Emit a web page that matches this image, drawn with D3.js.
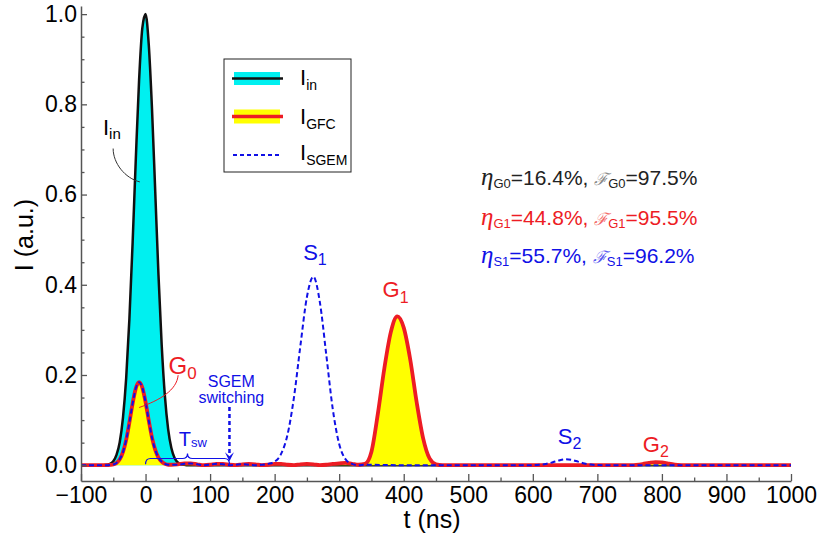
<!DOCTYPE html>
<html>
<head>
<meta charset="utf-8">
<script src="https://cdn.jsdelivr.net/npm/d3@7"></script>
<style>
  body { margin: 0; background: #fff; }
  text { font-family: "Liberation Sans", Arial, sans-serif; }
</style>
</head>
<body>
<svg id="chart" width="822" height="539"></svg>
<script>
// input pulse I_in
var tIn = [-100, -65, -60, -55, -50, -45, -40, -35, -30, -25, -20, -15, -10, -5, 0, 5, 10, 15, 20, 25, 30, 35, 40, 45, 50, 55, 60, 65, 1000];
var iIn = [0, 0, 0.001, 0.003, 0.009, 0.023, 0.051, 0.105, 0.193, 0.325, 0.494, 0.682, 0.854, 0.969, 1.0, 0.932, 0.790, 0.607, 0.423, 0.267, 0.153, 0.080, 0.038, 0.016, 0.006, 0.002, 0.001, 0, 0];

// GFC output (G0, G1, G2)
var tGfc = [-100, -70, -60, -55, -50, -45, -40, -35, -30, -25, -20, -15, -10, -5, 0, 5, 10, 15, 20, 25, 30, 35, 40,
  50, 60, 70, 80, 90, 100, 110, 120, 130, 140, 150, 160, 170, 180, 190, 200, 210, 220, 230, 240, 250, 260, 270, 280, 290,
  300, 310, 320, 330, 340, 350, 360, 370, 380, 390, 400, 410, 420, 430, 440, 450, 460, 500, 600, 700, 740,
  750, 760, 770, 780, 790, 800, 810, 820, 830, 840, 1000];
var iGfc = [0, 0, 0, 0.0005, 0.0016, 0.005, 0.013, 0.029, 0.056, 0.095, 0.137, 0.171, 0.184, 0.172, 0.140, 0.099, 0.061, 0.034, 0.017, 0.008, 0.003, 0.001, 0.001,
  0.002, 0.004, 0.004, 0.002, 0, 0.001, 0.003, 0.003, 0.001, 0, 0.002, 0.003, 0.002, 0, 0.001, 0.003, 0.003, 0.001, 0, 0.002, 0.003, 0.002, 0, 0.001, 0.003,
  0.004, 0.005, 0.003, 0.001, 0.003, 0.03, 0.115, 0.215, 0.295, 0.330, 0.305, 0.235, 0.14, 0.06, 0.015, 0.002, 0, 0, 0, 0, 0,
  0.0002, 0.0008, 0.0025, 0.0052, 0.007, 0.0062, 0.0035, 0.0013, 0.0003, 0, 0];

// SGEM output (G0, S1, S2)
var tSgem = [-100, -70, -60, -55, -50, -45, -40, -35, -30, -25, -20, -15, -10, -5, 0, 5, 10, 15, 20, 25, 30, 35, 40,
  50, 60, 70, 80, 90, 100, 110, 120, 130, 140, 150, 160, 170, 180, 190, 200, 210, 220, 230, 240, 250, 260, 270, 280, 290,
  300, 310, 320, 330, 340, 400, 500, 590, 600, 610, 620, 630, 640, 650, 660, 670, 680, 690, 700, 710, 1000];
var iSgem = [0, 0, 0, 0.0005, 0.0016, 0.005, 0.013, 0.029, 0.056, 0.095, 0.137, 0.171, 0.184, 0.172, 0.140, 0.099, 0.061, 0.034, 0.017, 0.008, 0.003, 0.001, 0.001,
  0.001, 0.003, 0.004, 0.002, 0, 0.001, 0.003, 0.002, 0, 0.001, 0.002, 0.001, 0, 0.001, 0.003, 0.008, 0.025, 0.068, 0.151, 0.266, 0.373, 0.418, 0.362, 0.245, 0.125,
  0.047, 0.013, 0.003, 0, 0.001, 0, 0, 0, 0.0002, 0.001, 0.0027, 0.0062, 0.0104, 0.013, 0.0118, 0.0079, 0.0039, 0.0014, 0.0004, 0, 0];

var xTickValues = [-100, 0, 100, 200, 300, 400, 500, 600, 700, 800, 900, 1000];
var xMinorValues = [-50, 50, 150, 250, 350, 450, 550, 650, 750, 850, 950];
var yTickValues = [0, 0.2, 0.4, 0.6, 0.8, 1.0];
var yMinorValues = [0.05, 0.1, 0.15, 0.25, 0.3, 0.35, 0.45, 0.5, 0.55, 0.65, 0.7, 0.75, 0.85, 0.9, 0.95];

var effSubs = ["G0", "G1", "S1"];
var etaVals = ["16.4%", "44.8%", "55.7%"];
var fidVals = ["97.5%", "95.5%", "96.2%"];

var tSwitch = 130;

var RED = "#ed1c24", BLUE = "#1010e6", CYAN = "#00f0f0", YELLOW = "#ffff00";

var svg = d3.select("#chart");
var x = d3.scaleLinear().domain([-100, 1000]).range([81, 791]);
var y = d3.scaleLinear().domain([-0.035, 1.018]).range([481, 6]);

function zip(ts, vs) { return ts.map(function(t, i) { return [t, vs[i]]; }); }
var inPts = zip(tIn, iIn), gfcPts = zip(tGfc, iGfc), sgemPts = zip(tSgem, iSgem);

var area = d3.area().x(d => x(d[0])).y0(y(0)).y1(d => y(d[1])).curve(d3.curveMonotoneX);
var line = d3.line().x(d => x(d[0])).y(d => y(d[1])).curve(d3.curveMonotoneX);

// fills and lines
svg.append("path").attr("d", area(inPts)).attr("fill", CYAN);
svg.append("path").attr("d", line(inPts)).attr("fill", "none").attr("stroke", "#111").attr("stroke-width", 2.5);
svg.append("path").attr("d", area(gfcPts)).attr("fill", YELLOW);
svg.append("path").attr("d", line(gfcPts)).attr("fill", "none").attr("stroke", RED).attr("stroke-width", 3.8);
svg.append("path").attr("d", line(sgemPts)).attr("fill", "none").attr("stroke", BLUE)
  .attr("stroke-width", 2).attr("stroke-dasharray", "5,3");

// axes
function styleAxis(g) {
  g.select(".domain").attr("stroke", "#555").attr("stroke-width", 1.5);
  g.selectAll(".tick line").attr("stroke", "#555").attr("stroke-width", 1.3);
  g.selectAll("text").attr("font-size", 23).attr("fill", "#000").attr("font-family", "Liberation Sans, Arial, sans-serif");
}
var gx = svg.append("g").attr("transform", "translate(0," + y.range()[0] + ")")
  .call(d3.axisBottom(x).tickValues(xTickValues).tickSize(-7).tickSizeOuter(0).tickPadding(6)
    .tickFormat(d => d < 0 ? "\u2212" + Math.abs(d) : d));
styleAxis(gx);
var gxm = svg.append("g").attr("transform", "translate(0," + y.range()[0] + ")")
  .call(d3.axisBottom(x).tickValues(xMinorValues).tickSize(-3.5).tickSizeOuter(0).tickFormat(""));
styleAxis(gxm); gxm.select(".domain").remove();

var gy = svg.append("g").attr("transform", "translate(" + x.range()[0] + ",0)")
  .call(d3.axisLeft(y).tickValues(yTickValues).tickSize(-6).tickSizeOuter(0).tickPadding(4).tickFormat(d3.format(".1f")));
styleAxis(gy);
var gym = svg.append("g").attr("transform", "translate(" + x.range()[0] + ",0)")
  .call(d3.axisLeft(y).tickValues(yMinorValues).tickSize(-3.5).tickSizeOuter(0).tickFormat(""));
styleAxis(gym); gym.select(".domain").remove();

svg.append("text").attr("x", 432).attr("y", 528).attr("text-anchor", "middle").attr("font-size", 25).text("t (ns)");
svg.append("text").attr("transform", "translate(33,235) rotate(-90)").attr("text-anchor", "middle").attr("font-size", 25).text("I (a.u.)");

// text with subscript runs
function runs(g, px, py, parts, color, anchor) {
  var t = g.append("text").attr("x", px).attr("y", py).attr("fill", color).attr("text-anchor", anchor || "start");
  var shift = 0;
  parts.forEach(function(p) {
    var s = t.append("tspan").text(p.s).attr("font-size", p.size);
    var want = p.dy || 0;
    if (want !== shift) { s.attr("dy", want - shift); shift = want; }
    if (p.fill) s.attr("fill", p.fill);
    if (p.family) s.attr("font-family", p.family);
    if (p.style) s.attr("font-style", p.style);
  });
  return t;
}
function label(main, sub, t, v, color, size, subSize, shift) {
  runs(svg, x(t), y(v), [{s: main, size: size}, {s: sub, size: subSize, dy: shift}], color);
}

// annotations
label("I", "in", -66, 0.732, "#000", 22, 15, 4);
svg.append("path").attr("fill", "none").attr("stroke", "#333").attr("stroke-width", 1)
  .attr("d", "M" + x(-50.2) + "," + y(0.702) + " C" + x(-50.2) + "," + y(0.6696) + " " + x(-32.1) + "," + y(0.6364) + " " + x(-8.8) + "," + y(0.628));

label("G", "0", 35.5, 0.2033, RED, 24, 17, 5);
svg.append("path").attr("fill", "none").attr("stroke", RED).attr("stroke-width", 1)
  .attr("d", "M" + x(50.5) + "," + y(0.1996) + " C" + x(48.5) + "," + y(0.1663) + " " + x(22.2) + "," + y(0.1441) + " " + x(-9.9) + "," + y(0.1279));

label("S", "1", 244.2, 0.4545, BLUE, 22, 16, 5);
label("G", "1", 367.2, 0.3732, RED, 22, 16, 6);
label("S", "2", 638.7, 0.0481, BLUE, 22, 16, 5);
label("G", "2", 770.4, 0.0295, RED, 22, 16, 5);

svg.append("text").attr("x", x(132.9)).attr("y", y(0.1736)).attr("text-anchor", "middle").attr("font-size", 16).attr("fill", BLUE).text("SGEM");
svg.append("text").attr("x", x(132.9)).attr("y", y(0.1381)).attr("text-anchor", "middle").attr("font-size", 16).attr("fill", BLUE).text("switching");

// switching arrow
var ax = x(tSwitch), aTop = y(0.129), aTip = y(0.0089);
svg.append("line").attr("x1", ax).attr("x2", ax).attr("y1", aTop).attr("y2", aTip - 6)
  .attr("stroke", BLUE).attr("stroke-width", 2.5).attr("stroke-dasharray", "4,3");
svg.append("path").attr("fill", BLUE)
  .attr("d", "M" + (ax - 4.5) + "," + (aTip - 9) + " L" + ax + "," + (aTip - 5) + " L" + (ax + 4.5) + "," + (aTip - 9) + " L" + ax + "," + aTip + " Z");

// T_sw brace
var bx0 = x(0), bx1 = x(tSwitch), bm = (bx0 + bx1) / 2, bh = y(0.0149), bt = y(0.026), be = y(0.002), r = 5;
svg.append("path").attr("fill", "none").attr("stroke", BLUE).attr("stroke-width", 1.2)
  .attr("d", "M" + bx0 + "," + be + " Q" + bx0 + "," + bh + " " + (bx0 + r) + "," + bh +
    " L" + (bm - r) + "," + bh + " Q" + bm + "," + bh + " " + bm + "," + bt +
    " Q" + bm + "," + bh + " " + (bm + r) + "," + bh + " L" + (bx1 - r) + "," + bh +
    " Q" + bx1 + "," + bh + " " + bx1 + "," + be);
label("T", "sw", 51.6, 0.0421, BLUE, 20, 13, 1);

// legend
var lg = svg.append("g");
lg.append("rect").attr("x", 224).attr("y", 59).attr("width", 127).attr("height", 113)
  .attr("fill", "#fff").attr("stroke", "#222").attr("stroke-width", 1);
lg.append("rect").attr("x", 234).attr("y", 72).attr("width", 46).attr("height", 13).attr("fill", CYAN);
lg.append("line").attr("x1", 232).attr("x2", 283).attr("y1", 78.5).attr("y2", 78.5).attr("stroke", "#111").attr("stroke-width", 2.5);
lg.append("rect").attr("x", 234).attr("y", 109.5).attr("width", 46).attr("height", 14).attr("fill", YELLOW);
lg.append("line").attr("x1", 232).attr("x2", 283).attr("y1", 116.5).attr("y2", 116.5).attr("stroke", RED).attr("stroke-width", 3.5);
lg.append("line").attr("x1", 233).attr("x2", 282).attr("y1", 155).attr("y2", 155).attr("stroke", BLUE).attr("stroke-width", 2).attr("stroke-dasharray", "4,3");
runs(lg, 300, 85, [{s: "I", size: 22}, {s: "in", size: 14, dy: 5}], "#000");
runs(lg, 300, 123.5, [{s: "I", size: 22}, {s: "GFC", size: 14, dy: 5}], "#000");
runs(lg, 300, 160, [{s: "I", size: 22}, {s: "SGEM", size: 14, dy: 5}], "#000");

// efficiency / fidelity
var effColors = ["#222", RED, BLUE];
var fidColors = ["#8a8a8a", "#f36a6a", "#5a5af0"];
var effY = [185, 224.5, 263];
effSubs.forEach(function(sb, i) {
  runs(svg, 481, effY[i], [
    {s: "\u03b7", size: 25, family: "Liberation Serif, serif", style: "italic"},
    {s: sb, size: 13, dy: 3},
    {s: "=" + etaVals[i] + ", ", size: 21},
    {s: "\u2131", size: 17, fill: fidColors[i], family: "DejaVu Serif, serif", style: "italic"},
    {s: sb, size: 13, dy: 3},
    {s: "=" + fidVals[i], size: 21}
  ], effColors[i]);
});
</script>
</body>
</html>
